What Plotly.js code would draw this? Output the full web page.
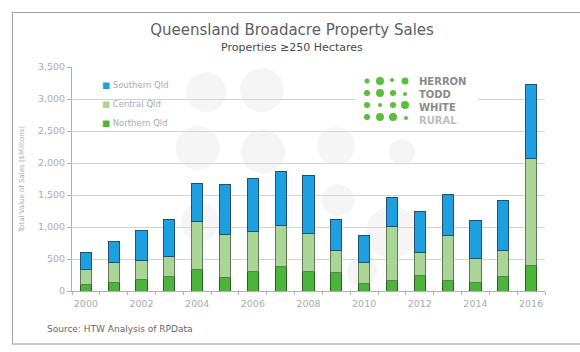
<!DOCTYPE html>
<html>
<head>
<meta charset="utf-8">
<script src="https://cdn.plot.ly/plotly-3.0.1.min.js"></script>
<style>
html,body{margin:0;padding:0;background:#fff;}
#wrap{position:relative;width:580px;height:352px;overflow:hidden;}
#chart{width:580px;height:352px;}
#frame{position:absolute;left:12px;top:12px;width:600px;height:330px;border-left:1px solid #a0a0a0;border-top:1px solid #a0a0a0;border-bottom:2px solid #c8c8c8;pointer-events:none;}
</style>
</head>
<body>
<div id="wrap"><div id="chart"></div><div id="frame"></div></div>
<script>
// ---- data ----
var years = [2000,2001,2002,2003,2004,2005,2006,2007,2008,2009,2010,2011,2012,2013,2014,2015,2016];
var northernQld = [95,140,180,225,340,215,300,380,305,285,110,165,250,165,140,220,395];
var centralQld  = [245,313,290,320,740,670,635,645,595,345,330,845,345,695,370,410,1675];
var southernQld = [260,323,475,580,600,775,820,845,900,490,430,455,640,650,585,790,1150];
var seriesNames = ['Northern Qld','Central Qld','Southern Qld'];
var yTicks = [0,500,1000,1500,2000,2500,3000,3500];
var xTickYears = [2000,2002,2004,2006,2008,2010,2012,2014,2016];

// ---- styling ----
var fills = ['#4cb43a','#a9d696','#1ea0e0'];
var edges = ['#2c5e22','#5f7d55','#22506e'];
var M = {l:72, r:35, t:67, b:61};
var W = 580, H = 352;
var pw = W - M.l - M.r, ph = H - M.t - M.b;
var XR = [1999.5, 2016.5], YR = [0, 3500];
function px(x){ return (x - M.l) / pw; }
function py(y){ return (H - M.b - y) / ph; }
function dx(x){ return XR[0] + px(x) * (XR[1] - XR[0]); }
function dy(y){ return YR[0] + py(y) * (YR[1] - YR[0]); }

var seriesVals = [northernQld, centralQld, southernQld];
var traces = [];
for (var i = 0; i < 3; i++) {
  traces.push({
    type:'bar', x: years, y: seriesVals[i], name: seriesNames[i],
    legendgroup: seriesNames[i], showlegend:false,
    marker:{color: fills[i], line:{color: edges[i], width:1}},
    hoverinfo:'x+y+name'
  });
}
// legend entries: coloured square glyph + name
for (var j = 0; j < 3; j++) {
  traces.push({
    type:'scatter', mode:'none', x:[null], y:[null],
    name: '<span style="color:' + fills[j] + '">■</span> ' + seriesNames[j],
    legendgroup: seriesNames[j], showlegend:true
  });
}

// decoration: faint watermark circles (pixel cx, cy, r)
var watermark = [[206,92,20],[262,90,22],[198,148,22],[263,152,22],[336,146,19],[200,222,19],[338,200,16],[392,232,26],[362,272,15],[402,152,13]];
// decoration: logo dots (pixel cx, cy, r)
var logoDots = [[367,81,2.5],[380,81,4],[392,80,2],[405,81,3.5],
                [367,93,3],[380,93,4],[393,93,3],[405,94,2],
                [367,105,3],[380,105,2],[393,105,3],[405,105,4],
                [367,117,3],[380,117,4],[393,117,4],[406,118,2]];
var shapes = [];
watermark.forEach(function(c){
  shapes.push({type:'circle', xref:'x', yref:'y', layer:'below',
    x0:dx(c[0]-c[2]), x1:dx(c[0]+c[2]), y0:dy(c[1]+c[2]), y1:dy(c[1]-c[2]),
    fillcolor:'#f5f5f5', line:{width:0}});
});
// white backing behind legend (hides gridlines there)
shapes.push({type:'rect', xref:'paper', yref:'paper', layer:'below',
  x0:px(97), x1:px(182), y0:py(127), y1:py(73), fillcolor:'#ffffff', line:{width:0}});
// white backing behind logo
shapes.push({type:'rect', xref:'paper', yref:'paper', layer:'above',
  x0:px(356), x1:px(478), y0:py(127), y1:py(72), fillcolor:'#ffffff', line:{width:0}});
logoDots.forEach(function(c){
  shapes.push({type:'circle', xref:'paper', yref:'paper', layer:'above',
    x0:px(c[0]-c[2]), x1:px(c[0]+c[2]), y0:py(c[1]+c[2]), y1:py(c[1]-c[2]),
    fillcolor:'#58c03a', line:{width:0}});
});

var annotations = [
  {xref:'paper', yref:'paper', x:px(292), y:py(47), text:'Properties ≥250 Hectares', showarrow:false,
   xanchor:'center', yanchor:'middle', font:{family:'DejaVu Sans', size:11, color:'#4a4a4a'}},
  {xref:'paper', yref:'paper', x:px(45), y:py(329), text:'Source: HTW Analysis of RPData', showarrow:false,
   xanchor:'left', yanchor:'middle', font:{family:'DejaVu Sans', size:9, color:'#666'}},
  {xref:'paper', yref:'paper', x:px(417), y:py(100.5), showarrow:false, xanchor:'left', yanchor:'middle', align:'left',
   text:'<b>HERRON<br>TODD<br>WHITE<br><span style="color:#bdbdbd">RURAL</span></b>',
   font:{family:'DejaVu Sans', size:10, color:'#8a8a8a'}}
];

var layout = {
  width: W, height: H,
  margin: M,
  paper_bgcolor:'#ffffff', plot_bgcolor:'rgba(0,0,0,0)',
  barmode:'stack', bargap:0.6,
  showlegend:true,
  title:{text:'Queensland Broadacre Property Sales', x:px(292), xref:'paper', xanchor:'center',
    y:1-30/H, yref:'container', yanchor:'middle',
    font:{family:'DejaVu Sans', size:15, color:'#5e5e5e'}},
  xaxis:{
    range:XR, tickvals:xTickYears, ticktext:xTickYears.map(String),
    ticks:'', showgrid:false, zeroline:false,
    showline:true, linecolor:'#b0b0b0', linewidth:1,
    minor:{tick0:1999.5, dtick:1, ticks:'outside', ticklen:3, tickcolor:'#b0b0b0', showgrid:false},
    tickfont:{family:'DejaVu Sans', size:9.5, color:'#aaa'}, ticklabelstandoff:4
  },
  yaxis:{
    range:YR, tickvals:yTicks, tickformat:',',
    showgrid:true, gridcolor:'#d4d4d4', gridwidth:1, zeroline:false,
    showline:true, linecolor:'#b0b0b0', ticks:'outside', ticklen:4, tickcolor:'#b0b0b0',
    tickfont:{family:'DejaVu Sans', size:9.5, color:'#aaa'},
    title:{text:'Total Value of Sales ($Millions)', standoff:12, font:{family:'DejaVu Sans', size:7, color:'#aaa'}}
  },
  legend:{x:px(62), y:py(70), xanchor:'left', yanchor:'top', traceorder:'reversed',
    bgcolor:'rgba(0,0,0,0)', borderwidth:0, itemwidth:30, tracegroupgap:0,
    font:{family:'DejaVu Sans', size:8.5, color:'#aaa'}},
  shapes: shapes,
  annotations: annotations
};

Plotly.newPlot('chart', traces, layout, {displayModeBar:false, staticPlot:true});
</script>
</body>
</html>
